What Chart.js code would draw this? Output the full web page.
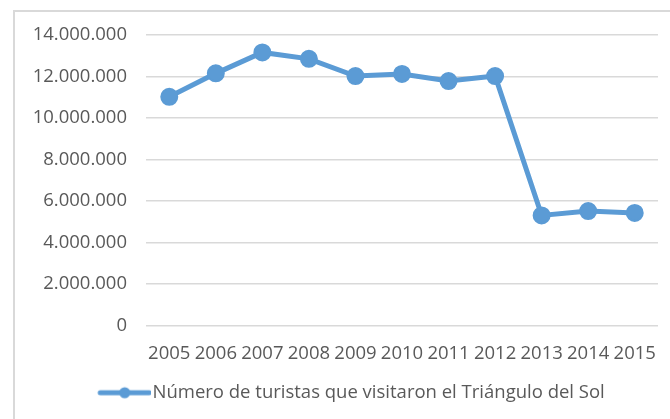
<!DOCTYPE html>
<html>
<head>
<meta charset="utf-8">
<script src="https://cdn.jsdelivr.net/npm/chart.js@4"></script>
<style>
  html, body { margin: 0; padding: 0; background: #fff; overflow: hidden; }
  #wrap { position: relative; width: 670px; height: 419px; }
  #frame { position: absolute; left: 13px; top: 10px; width: 700px; height: 450px;
           border-left: 2px solid #d9d9d9; border-top: 2px solid #d9d9d9; box-sizing: border-box; }
  canvas { position: absolute; left: 0; top: 0; }
</style>
</head>
<body>
<div id="wrap">
  <div id="frame"></div>
  <canvas id="chart" width="670" height="419"></canvas>
</div>
<script>
const years = ['2005', '2006', '2007', '2008', '2009', '2010', '2011', '2012', '2013', '2014', '2015'];
const turistas = [11020000, 12150000, 13160000, 12850000, 12020000, 12120000, 11780000, 12020000, 5300000, 5510000, 5420000];
const seriesName = 'Número de turistas que visitaron el Triángulo del Sol';

const blue = '#5b9bd5';
const grey = '#595959';
const fontSize = 18.5;

function fmt(v) {
  return String(v).replace(/\B(?=(\d{3})+(?!\d))/g, '.');
}

// legend symbol: line with a dot, sitting in the right part of a wide box
// so the legend text lands where it does in the original
const sym = document.createElement('canvas');
sym.width = 106;
sym.height = 14;
const sctx = sym.getContext('2d');
sctx.strokeStyle = blue;
sctx.fillStyle = blue;
sctx.lineWidth = 5;
sctx.lineCap = 'round';
sctx.beginPath();
sctx.moveTo(55, 7);
sctx.lineTo(104, 7);
sctx.stroke();
sctx.beginPath();
sctx.arc(79.5, 7, 5.5, 0, Math.PI * 2);
sctx.fill();

new Chart(document.getElementById('chart'), {
  type: 'line',
  data: {
    labels: years,
    datasets: [{
      label: seriesName,
      data: turistas,
      borderColor: blue,
      backgroundColor: blue,
      borderWidth: 5,
      pointRadius: 8,
      pointBorderWidth: 2,
      pointBackgroundColor: blue,
      pointBorderColor: blue,
      pointStyle: 'circle',
      tension: 0
    }]
  },
  options: {
    responsive: false,
    animation: false,
    layout: { padding: { top: 35, right: 12, left: 0, bottom: 7 } },
    plugins: {
      tooltip: { enabled: false },
      legend: {
        position: 'bottom',
        labels: {
          usePointStyle: true,
          pointStyle: sym,
          pointStyleWidth: 90,
          color: grey,
          font: { family: 'Open Sans', size: fontSize },
          padding: 10,
          generateLabels: chart => [{
            text: seriesName,
            pointStyle: sym,
            fontColor: grey,
            lineWidth: 0,
            strokeStyle: 'transparent',
            fillStyle: 'transparent',
            datasetIndex: 0
          }]
        }
      }
    },
    scales: {
      x: {
        offset: true,
        grid: { display: false },
        border: { display: false },
        ticks: { color: grey, font: { family: 'Open Sans', size: fontSize }, padding: 9, maxRotation: 0, autoSkip: false }
      },
      y: {
        min: 0,
        max: 14000000,
        afterFit: s => { s.width = 146; },
        grid: { color: '#d9d9d9', lineWidth: 1.5, drawTicks: false },
        border: { display: false },
        ticks: { stepSize: 2000000, color: grey, font: { family: 'Open Sans', size: fontSize }, padding: 19, callback: v => fmt(v) }
      }
    }
  }
});
</script>
</body>
</html>
